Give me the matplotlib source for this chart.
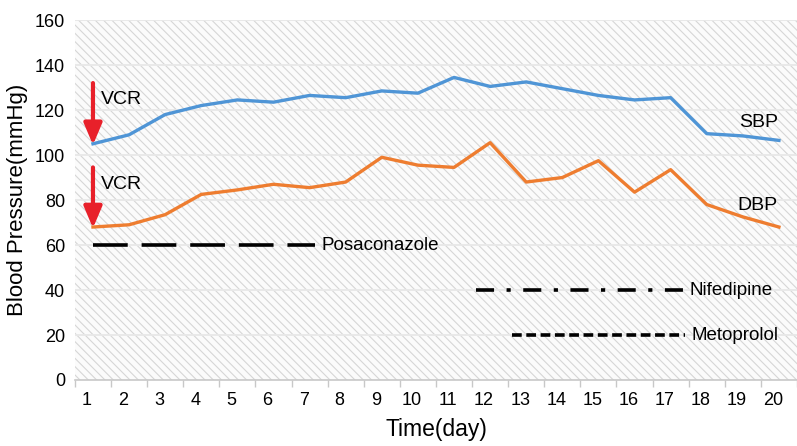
import matplotlib
matplotlib.use("Agg")
import matplotlib.pyplot as plt
import matplotlib.transforms as mtransforms
from matplotlib.patches import Rectangle

plt.rcParams['font.family'] = ['Liberation Sans', 'DejaVu Sans']
plt.rcParams['lines.scale_dashes'] = False
plt.rcParams['hatch.linewidth'] = 0.8

days = list(range(1, 21))
sbp = [105, 109, 118, 122, 124.5, 123.5, 126.5, 125.5, 128.5, 127.5,
       134.5, 130.5, 132.5, 129.5, 126.5, 124.5, 125.5, 109.5, 108.5, 106.5]
dbp = [68, 69, 73.5, 82.5, 84.5, 87, 85.5, 88, 99, 95.5,
       94.5, 105.5, 88, 90, 97.5, 83.5, 93.5, 78, 72.5, 68]

drugs = ['Posaconazole', 'Nifedipine', 'Metoprolol']
drug_start = [1, 11.6, 12.6]
drug_end = [7.15, 17.35, 17.4]
drug_level = [60, 40, 20]
drug_dashes = [(25, 10), (13, 9, 3, 9), (7, 3.3)]

fig = plt.figure(figsize=(7.97, 4.46), dpi=100)
ax = fig.add_axes([0.094, 0.148, 0.906, 0.807])

# hatched plot background
ax.add_patch(Rectangle((0, 0), 1, 1, transform=ax.transAxes, facecolor='#fbfbfb',
                       edgecolor='#d6d6d6', hatch='\\' * 4, lw=0, zorder=0))
for v in range(20, 161, 20):
    ax.axhline(v, color='#e8e8e8', lw=1.3, zorder=1)

ax.plot(days, sbp, color='#4f95d6', lw=2.4, zorder=3)
ax.plot(days, dbp, color='#ee7d30', lw=2.4, zorder=3)

for name, s, e, lev, ds in zip(drugs, drug_start, drug_end, drug_level, drug_dashes):
    ln, = ax.plot([s, e], [lev, lev], color='black', lw=2.6, zorder=3)
    ln.set_dashes(ds)
    ax.text(e + 0.18, lev, name, fontsize=13.5, va='center', ha='left', zorder=4)

# VCR arrows
for top, tip in [(132, sbp[0]), (94.5, dbp[0])]:
    ax.annotate('', xy=(days[0], tip - 0.5), xytext=(days[0], top),
                arrowprops=dict(arrowstyle='-|>,head_width=0.55,head_length=1.3',
                                color='#e8202a', lw=3, shrinkA=0, shrinkB=0),
                zorder=5)
    ax.text(days[0] + 0.22, top - 7.5, 'VCR', fontsize=14, va='center', ha='left', zorder=5)

ax.text(19.45, 114.5, 'SBP', fontsize=14, ha='center', va='center')
ax.text(19.4, 77.5, 'DBP', fontsize=14, ha='center', va='center')

ax.set_xlim(0.53, 20.34)
ax.set_ylim(0, 160)
ax.set_yticks(range(0, 161, 20))
ax.set_xticks(days)
ax.set_xticks([d - 0.5 for d in days] + [20.5], minor=True)
ax.tick_params(axis='x', which='major', length=0, labelsize=13, pad=9)
ax.tick_params(axis='x', which='minor', length=5, color='#c8c8c8', width=1)
ax.tick_params(axis='y', length=0, labelsize=13, pad=7)

shift = mtransforms.ScaledTranslation(-6 / 100, 0, fig.dpi_scale_trans)
for lab in ax.get_xticklabels():
    lab.set_transform(lab.get_transform() + shift)

for side in ['top', 'right', 'left']:
    ax.spines[side].set_visible(False)
ax.spines['bottom'].set_color('#c8c8c8')
ax.spines['bottom'].set_linewidth(1.2)

ax.set_xlabel('Time(day)', fontsize=16.5, labelpad=6)
ax.set_ylabel('Blood Pressure(mmHg)', fontsize=16, labelpad=5)

fig.savefig('out.png', dpi=100)
